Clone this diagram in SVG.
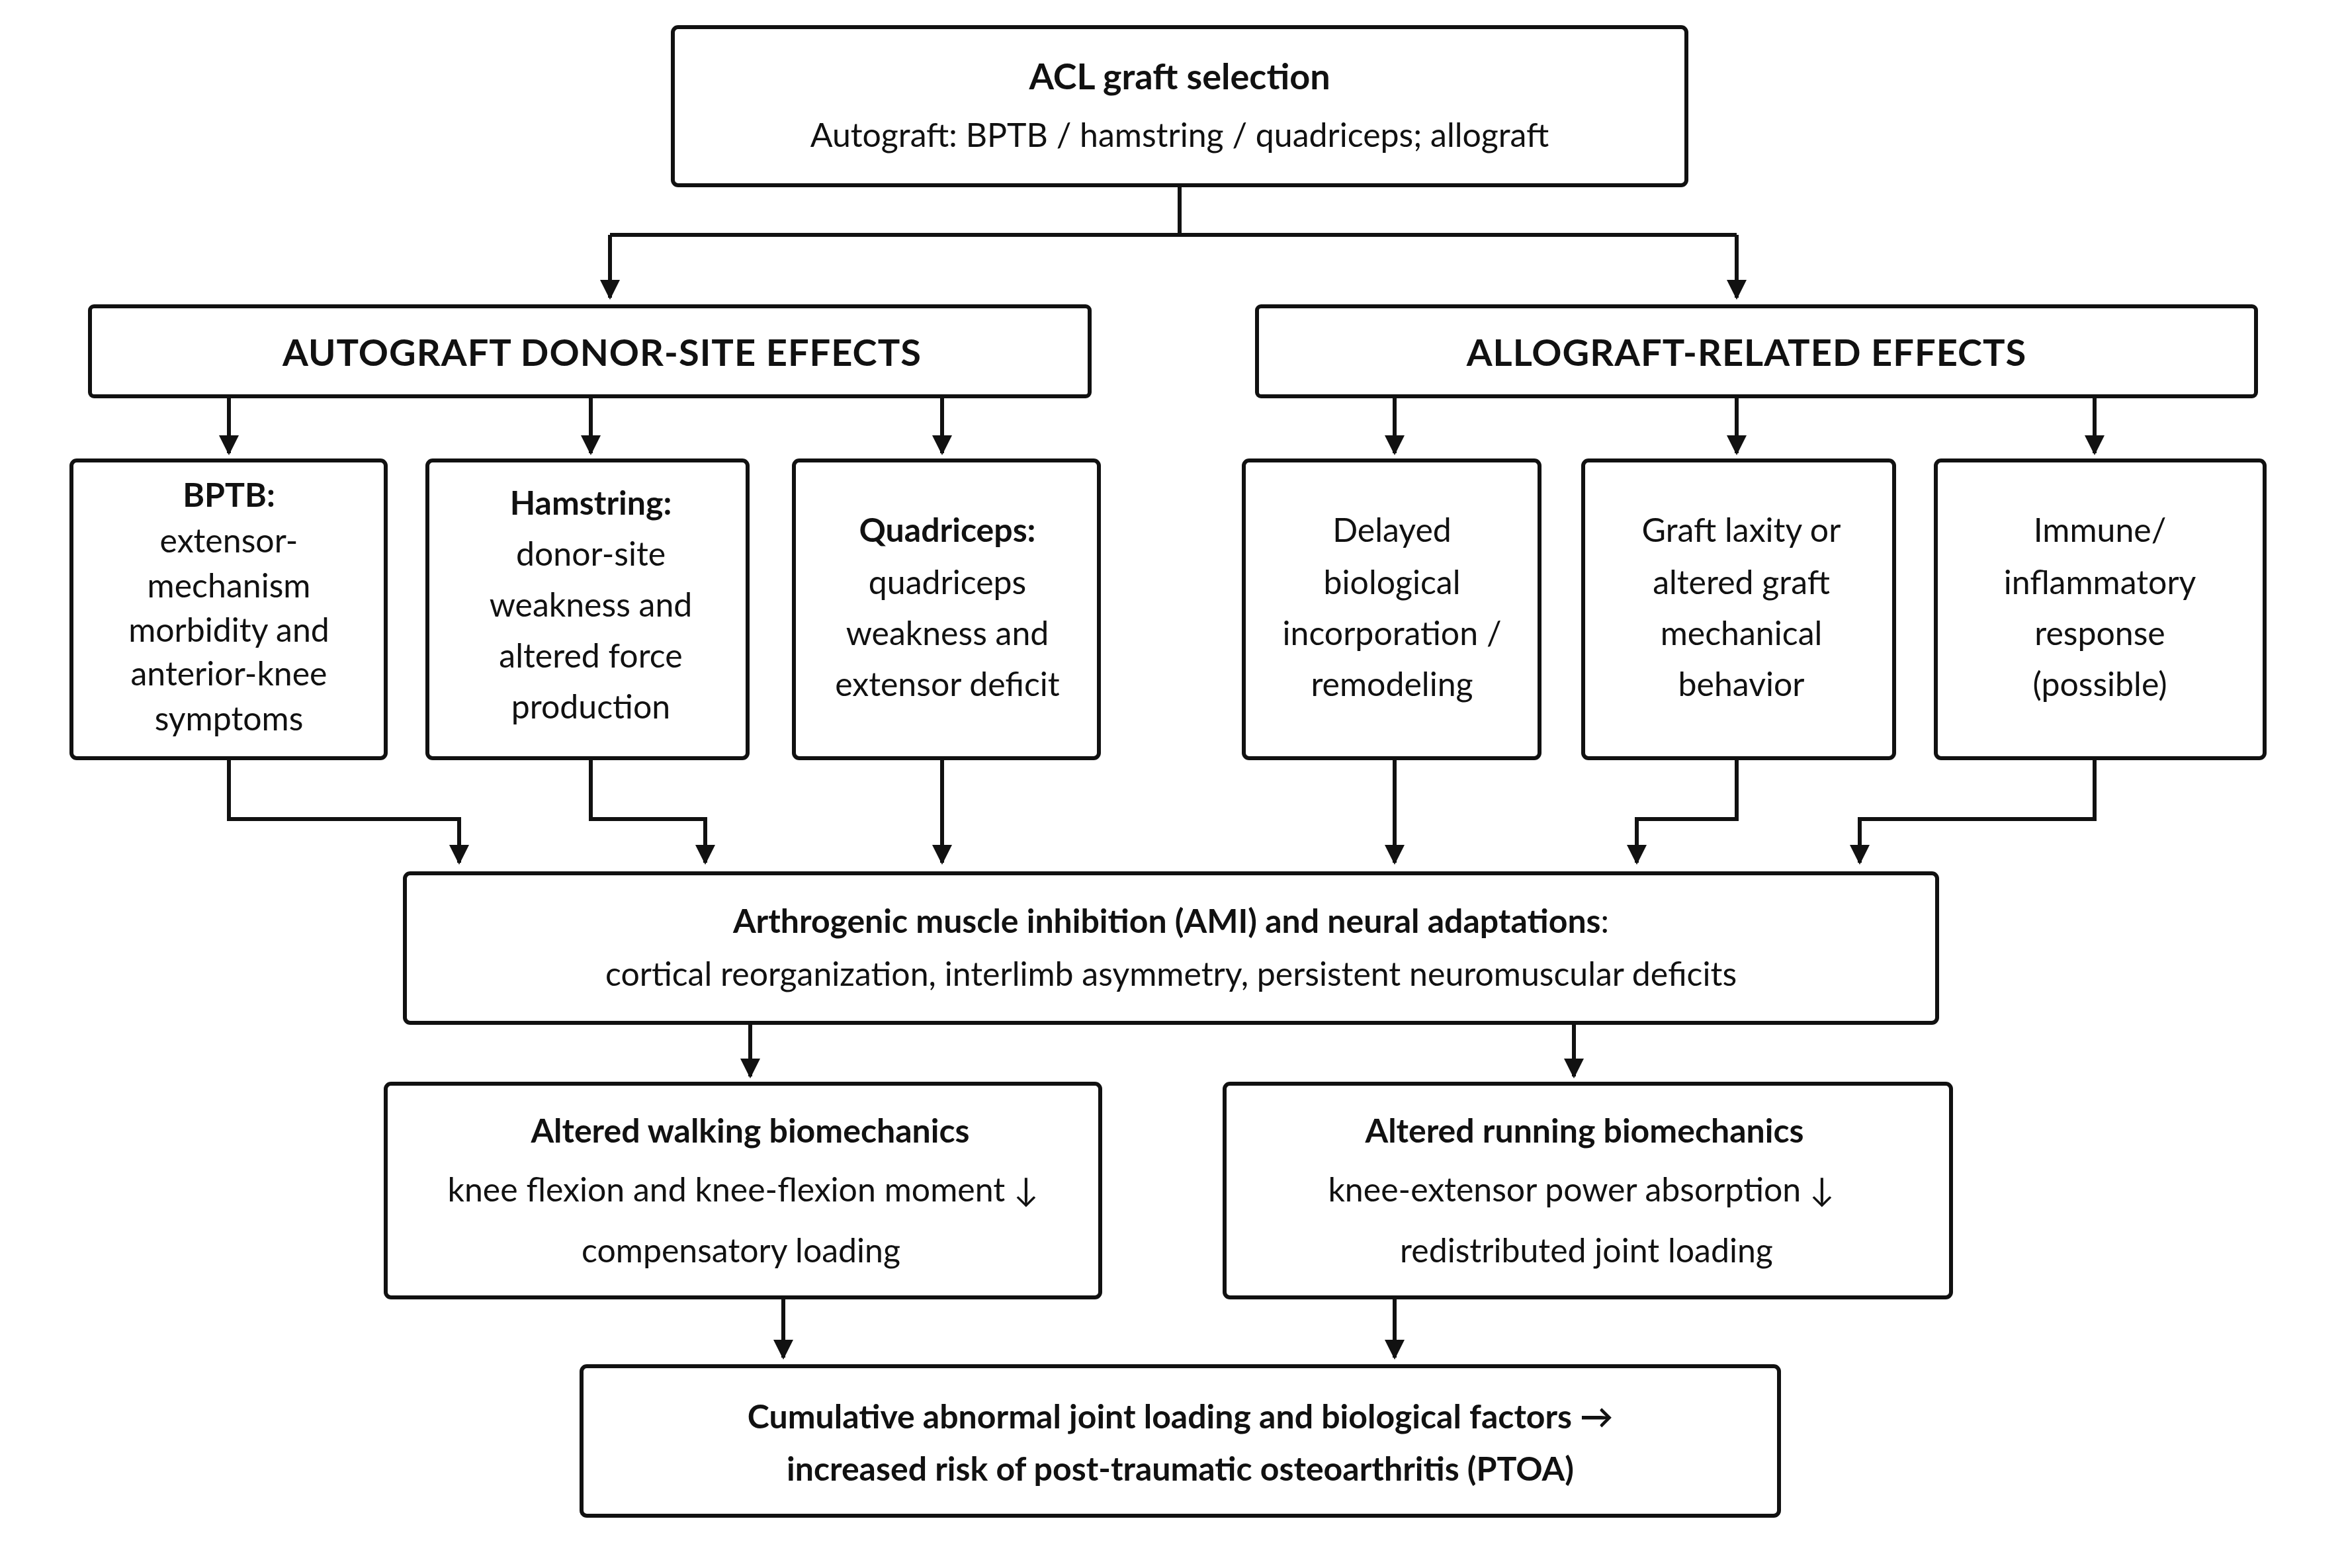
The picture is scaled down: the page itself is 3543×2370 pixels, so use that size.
<svg xmlns="http://www.w3.org/2000/svg" width="3543" height="2370" viewBox="0 0 3543 2370">
<style>
.b{fill:#fff;stroke:#111;stroke-width:6}
text{font-family:Lato,"Open Sans",sans-serif;font-size:50px;fill:#111;text-anchor:middle}
.t{font-weight:bold;font-size:54px}
.h{font-weight:bold;font-size:56px;letter-spacing:1px}
.bo{font-weight:bold}
.c{fill:none;stroke:#111;stroke-width:6}
</style>
<defs><marker id="a" viewBox="0 0 10 10" refX="9" refY="5" markerWidth="5" markerHeight="5" orient="auto" markerUnits="strokeWidth"><path d="M0,0L10,5L0,10z" fill="#111"/></marker></defs>
<rect width="3543" height="2370" fill="#fff"/>
<g id="connectors" class="c">
<path d="M1783,280V355M922,355H2625M922,355V450" marker-end="url(#a)"/>
<path d="M2625,355V450" marker-end="url(#a)"/>
<path d="M346,599V685" marker-end="url(#a)"/>
<path d="M893,599V685" marker-end="url(#a)"/>
<path d="M1424,599V685" marker-end="url(#a)"/>
<path d="M2108,599V685" marker-end="url(#a)"/>
<path d="M2625,599V685" marker-end="url(#a)"/>
<path d="M3166,599V685" marker-end="url(#a)"/>
<path d="M346,1146V1238H694V1304" marker-end="url(#a)"/>
<path d="M893,1146V1238H1066V1304" marker-end="url(#a)"/>
<path d="M1424,1146V1304" marker-end="url(#a)"/>
<path d="M2108,1146V1304" marker-end="url(#a)"/>
<path d="M2625,1146V1238H2474V1304" marker-end="url(#a)"/>
<path d="M3166,1146V1238H2811V1304" marker-end="url(#a)"/>
<path d="M1134,1546V1627" marker-end="url(#a)"/>
<path d="M2379,1546V1627" marker-end="url(#a)"/>
<path d="M1184,1961V2052" marker-end="url(#a)"/>
<path d="M2108,1961V2052" marker-end="url(#a)"/>
</g>
<g id="top"><rect class="b" x="1017" y="41" width="1532" height="239" rx="8"/>
<text class="t" x="1783" y="135">ACL graft selection</text>
<text x="1783" y="222">Autograft: BPTB / hamstring / quadriceps; allograft</text></g>
<g id="auto"><rect class="b" x="136" y="463" width="1511" height="136" rx="6"/><text class="h" x="910" y="553">AUTOGRAFT DONOR-SITE EFFECTS</text></g>
<g id="allo"><rect class="b" x="1900" y="463" width="1510" height="136" rx="6"/><text class="h" x="2640" y="553">ALLOGRAFT-RELATED EFFECTS</text></g>
<g id="bptb"><rect class="b" x="108" y="696" width="475" height="450" rx="8"/>
<text x="346"><tspan class="bo" x="346" y="766">BPTB:</tspan><tspan x="346" y="835">extensor-</tspan><tspan x="346" y="903">mechanism</tspan><tspan x="346" y="970">morbidity and</tspan><tspan x="346" y="1036">anterior-knee</tspan><tspan x="346" y="1104">symptoms</tspan></text></g>
<g id="ham"><rect class="b" x="646" y="696" width="484" height="450" rx="8"/>
<text x="893"><tspan class="bo" x="893" y="778">Hamstring:</tspan><tspan x="893" y="855">donor-site</tspan><tspan x="893" y="932">weakness and</tspan><tspan x="893" y="1009">altered force</tspan><tspan x="893" y="1086">production</tspan></text></g>
<g id="quad"><rect class="b" x="1200" y="696" width="461" height="450" rx="8"/>
<text x="1432"><tspan class="bo" x="1432" y="819">Quadriceps:</tspan><tspan x="1432" y="898">quadriceps</tspan><tspan x="1432" y="975">weakness and</tspan><tspan x="1432" y="1052">extensor deficit</tspan></text></g>
<g id="delayed"><rect class="b" x="1880" y="696" width="447" height="450" rx="8"/>
<text x="2104"><tspan x="2104" y="819">Delayed</tspan><tspan x="2104" y="898">biological</tspan><tspan x="2104" y="975">incorporation /</tspan><tspan x="2104" y="1052">remodeling</tspan></text></g>
<g id="laxity"><rect class="b" x="2393" y="696" width="470" height="450" rx="8"/>
<text x="2632"><tspan x="2632" y="819">Graft laxity or</tspan><tspan x="2632" y="898">altered graft</tspan><tspan x="2632" y="975">mechanical</tspan><tspan x="2632" y="1052">behavior</tspan></text></g>
<g id="immune"><rect class="b" x="2926" y="696" width="497" height="450" rx="8"/>
<text x="3174"><tspan x="3174" y="819">Immune/</tspan><tspan x="3174" y="898">inflammatory</tspan><tspan x="3174" y="975">response</tspan><tspan x="3174" y="1052">(possible)</tspan></text></g>
<g id="ami"><rect class="b" x="612" y="1320" width="2316" height="226" rx="8"/>
<text x="1770" y="1410"><tspan class="bo">Arthrogenic muscle inhibition (AMI) and neural adaptations</tspan>:</text>
<text x="1770" y="1490">cortical reorganization, interlimb asymmetry, persistent neuromuscular deficits</text></g>
<g id="walk"><rect class="b" x="583" y="1638" width="1080" height="323" rx="8"/>
<text class="bo" x="1134" y="1727">Altered walking biomechanics</text>
<text x="1123" y="1816">knee flexion and knee-flexion moment ↓</text>
<text x="1120" y="1908">compensatory loading</text></g>
<g id="run"><rect class="b" x="1851" y="1638" width="1098" height="323" rx="8"/>
<text class="bo" x="2395" y="1727">Altered running biomechanics</text>
<text x="2390" y="1816">knee-extensor power absorption ↓</text>
<text x="2398" y="1908">redistributed joint loading</text></g>
<g id="ptoa"><rect class="b" x="879" y="2065" width="1810" height="226" rx="8"/>
<text class="bo" x="1784" y="2159">Cumulative abnormal joint loading and biological factors →</text>
<text class="bo" x="1784" y="2238">increased risk of post-traumatic osteoarthritis (PTOA)</text></g>
</svg>
